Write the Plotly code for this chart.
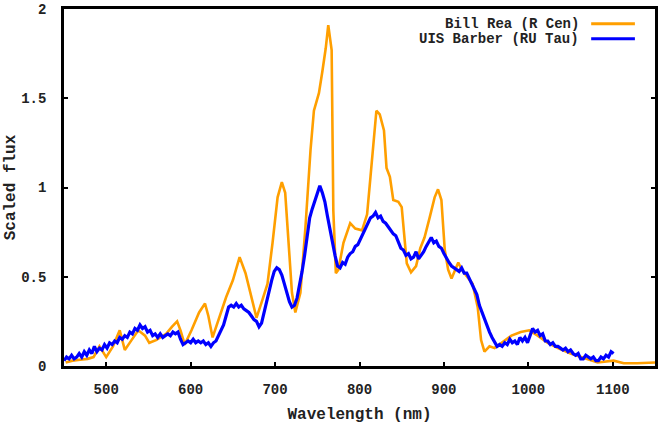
import plotly.graph_objects as go

# ---- data ----
orange_name = "Bill Rea (R Cen)"
orange_wl = [452, 460, 469, 478, 485, 492, 500, 508, 516, 522, 530, 538, 546, 551, 559,
             571, 578, 584, 588, 593, 601, 610, 617, 621, 626, 634, 642, 650, 658, 665,
             671, 678, 685, 691, 697, 703, 708, 712, 716, 720, 724, 730, 736, 742, 746,
             752, 756, 760, 763, 767, 769, 772, 775, 781, 789, 795, 803, 809, 813, 817,
             820, 824, 829, 832, 836, 840, 846, 850, 853, 856, 861, 867, 872, 877, 883,
             889, 893, 897, 901, 905, 909, 913, 917, 921, 926, 934, 940, 944, 948, 954,
             960, 968, 980, 991, 1001, 1011, 1023, 1035, 1050, 1066, 1082, 1101, 1113,
             1129, 1144, 1150]
orange_flux = [0.02, 0.03, 0.035, 0.04, 0.05, 0.11, 0.05, 0.11, 0.20, 0.09, 0.145, 0.20, 0.17, 0.13, 0.145,
               0.18, 0.22, 0.25, 0.20, 0.12, 0.20, 0.30, 0.35, 0.28, 0.16, 0.27, 0.385, 0.48, 0.61, 0.52,
               0.41, 0.27, 0.37, 0.46, 0.69, 0.945, 1.03, 0.97, 0.69, 0.41, 0.30, 0.41, 0.78, 1.21, 1.43,
               1.53, 1.65, 1.78, 1.91, 1.77, 0.87, 0.52, 0.54, 0.69, 0.80, 0.77, 0.76, 0.85, 1.06, 1.28,
               1.43, 1.41, 1.32, 1.11, 1.06, 0.93, 0.92, 0.89, 0.72, 0.575, 0.525, 0.56, 0.66, 0.72, 0.83,
               0.945, 0.99, 0.93, 0.65, 0.54, 0.49, 0.54, 0.58, 0.54, 0.51, 0.46, 0.33, 0.145, 0.08, 0.11,
               0.10, 0.13, 0.17, 0.19, 0.20, 0.17, 0.13, 0.10, 0.07, 0.045, 0.02, 0.03, 0.015,
               0.015, 0.02, 0.02]

blue_name = "UIS Barber (RU Tau)"
blue_start, blue_step = 450, 3
blue_flux = [
    0.03, 0.05, 0.04, 0.06, 0.04, 0.05, 0.07, 0.05, 0.08, 0.06,   # 450-477
    0.09, 0.07, 0.11, 0.08, 0.10, 0.09, 0.12, 0.10, 0.13, 0.12,   # 480-507
    0.14, 0.13, 0.16, 0.15, 0.17, 0.16, 0.19, 0.18, 0.21, 0.20,   # 510-537
    0.23, 0.21, 0.22, 0.19, 0.20, 0.17, 0.18, 0.16, 0.18, 0.16,   # 540-567
    0.17, 0.18, 0.17, 0.19, 0.18, 0.19, 0.15, 0.12, 0.13, 0.14,   # 570-597
    0.13, 0.15, 0.13, 0.14, 0.13, 0.14, 0.12, 0.13, 0.11, 0.13,   # 600-627
    0.14, 0.17, 0.19, 0.23, 0.28, 0.33, 0.34, 0.33, 0.35, 0.33,   # 630-657
    0.34, 0.32, 0.31, 0.30, 0.28, 0.26, 0.25, 0.22, 0.24, 0.30,   # 660-687
    0.37, 0.42, 0.48, 0.53, 0.55, 0.54, 0.51, 0.46, 0.41, 0.36,   # 690-717
    0.33, 0.34, 0.38, 0.45, 0.53, 0.62, 0.72, 0.83, 0.88, 0.92,   # 720-747
    0.96, 1.01, 0.97, 0.92, 0.84, 0.76, 0.69, 0.62, 0.56, 0.55,   # 750-777
    0.58, 0.57, 0.61, 0.63, 0.64, 0.67, 0.68, 0.71, 0.73, 0.76,   # 780-807
    0.79, 0.83, 0.84, 0.86, 0.83, 0.84, 0.81, 0.80, 0.78, 0.76,   # 810-837
    0.74, 0.73, 0.70, 0.66, 0.65, 0.62, 0.63, 0.60, 0.61, 0.64,   # 840-867
    0.60, 0.62, 0.64, 0.67, 0.70, 0.72, 0.69, 0.70, 0.67, 0.66,   # 870-897
    0.63, 0.60, 0.58, 0.56, 0.55, 0.54, 0.53, 0.55, 0.52, 0.52,   # 900-927
    0.49, 0.47, 0.44, 0.40, 0.34, 0.30, 0.26, 0.23, 0.19, 0.16,   # 930-957
    0.13, 0.11, 0.12, 0.11, 0.13, 0.12, 0.15, 0.13, 0.14, 0.12,   # 960-987
    0.16, 0.14, 0.16, 0.13, 0.17, 0.21, 0.19, 0.20, 0.17, 0.18,   # 990-1017
    0.14, 0.14, 0.12, 0.13, 0.11, 0.11, 0.10, 0.09, 0.10, 0.08,   # 1020-1047
    0.09, 0.07, 0.06, 0.07, 0.04, 0.04, 0.06, 0.05, 0.04, 0.05,   # 1050-1077
    0.03, 0.03, 0.05, 0.04, 0.06, 0.05, 0.08, 0.07,               # 1080-1101
]
blue_wl = [blue_start + blue_step * i for i in range(len(blue_flux))]

x_ticks = [500, 600, 700, 800, 900, 1000, 1100]
y_ticks = [0, 0.5, 1, 1.5, 2]
y_tick_text = ["0", "0.5", "1", "1.5", "2"]

ORANGE = "#ff9f00"
BLUE = "#0000ff"

fig = go.Figure()
fig.add_trace(go.Scatter(x=orange_wl, y=orange_flux, mode="lines", name=orange_name,
                         line=dict(color=ORANGE, width=2.6), showlegend=False))
fig.add_trace(go.Scatter(x=blue_wl, y=blue_flux, mode="lines", name=blue_name,
                         line=dict(color=BLUE, width=3.2), showlegend=False))

mono = "Liberation Mono"
tickfont = dict(family=mono, size=14, color="#222222", weight="bold")

fig.update_layout(
    width=660, height=432,
    margin=dict(l=64, r=2, t=8, b=66),
    paper_bgcolor="white", plot_bgcolor="white",
    xaxis=dict(range=[450, 1150], tickvals=x_ticks, ticks="inside", ticklen=4,
               tickwidth=1.5, tickcolor="black", showline=True, linecolor="black",
               linewidth=2.5, mirror=True, showgrid=False, zeroline=False,
               tickfont=tickfont, ticklabelstandoff=8,
               title=dict(text="<b>Wavelength (nm)</b>",
                          font=dict(family=mono, size=16, color="#222222"), standoff=12)),
    yaxis=dict(range=[0, 2], tickvals=y_ticks, ticktext=y_tick_text, ticks="inside",
               ticklen=4, tickwidth=1.5, tickcolor="black", showline=True,
               linecolor="black", linewidth=2.5, mirror="ticks", showgrid=False,
               zeroline=False, tickfont=tickfont, ticklabelstandoff=12,
               title=dict(text="<b>Scaled flux</b>",
                          font=dict(family=mono, size=16, color="#222222"), standoff=2)),
)

# manual legend (text left, sample line right, as in the reference)
legend_items = [(orange_name, ORANGE, 0.959), (blue_name, BLUE, 0.917)]
for name, color, yp in legend_items:
    fig.add_annotation(x=0.874, y=yp, xref="paper", yref="paper", text="<b>" + name + "</b>",
                       showarrow=False, xanchor="right", yanchor="middle",
                       font=dict(family=mono, size=14, color="#222222"))
    fig.add_shape(type="line", xref="paper", yref="paper", x0=0.892, x1=0.966, y0=yp, y1=yp,
                  line=dict(color=color, width=3))

fig.write_html("out.html")
